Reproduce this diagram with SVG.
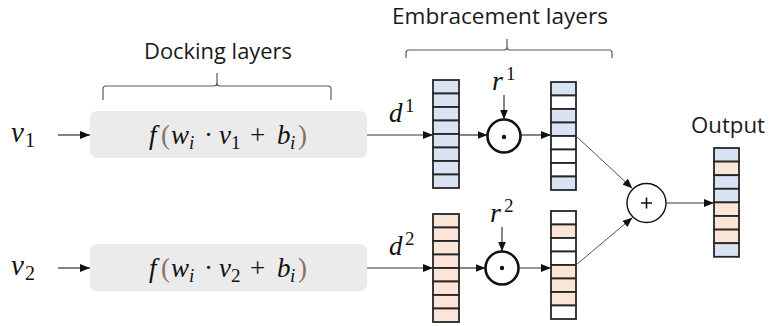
<svg xmlns="http://www.w3.org/2000/svg" width="771" height="326" viewBox="0 0 771 326">
<style>
.lbl{font-family:"Open Sans","Liberation Sans",sans-serif;font-size:22px;fill:#1a1a1a}
.m{font-family:"Liberation Serif","DejaVu Serif",serif;font-style:italic;fill:#111}
.mn{font-family:"Liberation Serif","DejaVu Serif",serif;font-style:normal;fill:#111}
.par{fill:#8a6e68;font-style:normal}
.box{fill:#ebebeb;stroke:none}
.cell{stroke:#262626;stroke-width:1.8}
.b{fill:#dae3f3}
.o{fill:#fbe5d6}
.w{fill:#ffffff}
.con{stroke:#333;stroke-width:1.2;fill:none}
.dg{stroke:#555;stroke-width:1;fill:none}
.odot{fill:#fff;stroke:#111;stroke-width:2.6}
.brace{fill:none;stroke:#5a5a5a;stroke-width:1.2}
</style>
<defs>
<marker id="ah" markerUnits="userSpaceOnUse" markerWidth="10" markerHeight="8" refX="10" refY="4" orient="auto">
<path d="M0,0 L10,4 L0,8 Z" fill="#111"/>
</marker>
</defs>

<!-- section labels and braces -->
<g id="docking-label">
<text class="lbl" x="218" y="59" text-anchor="middle" textLength="148" lengthAdjust="spacingAndGlyphs">Docking layers</text>
<path class="brace" d="M103,100 V89 Q103,86 106,86 H214 Q217,86 217,83 V73 M217,83 Q217,86 220,86 H328 Q331,86 331,89 V100"/>
</g>
<g id="embracement-label">
<text class="lbl" x="500" y="24" text-anchor="middle" textLength="216" lengthAdjust="spacingAndGlyphs">Embracement layers</text>
<path class="brace" d="M406,58 V53 Q406,50 409,50 H504 Q507,50 507,47 V39 M507,47 Q507,50 510,50 H609 Q612,50 612,53 V58"/>
</g>

<!-- inputs -->
<g id="v1">
<text class="m" x="11" y="142" font-size="29">v<tspan class="mn" font-size="20" x="25" dy="5">1</tspan></text>
</g>
<g id="v2">
<text class="m" x="11" y="275" font-size="29">v<tspan class="mn" font-size="20" x="25" dy="5">2</tspan></text>
</g>

<!-- docking boxes -->
<g id="dock1">
<rect class="box" x="90" y="111" width="277" height="47" rx="7"/>
<text class="m" y="144" font-size="27"><tspan x="149">f</tspan><tspan class="par" x="161">(</tspan><tspan x="171">w</tspan><tspan font-size="19" x="189" dy="5">i</tspan><tspan class="mn" x="204" dy="-5">·</tspan><tspan x="219">v</tspan><tspan class="mn" font-size="19" x="231" dy="5">1</tspan><tspan class="mn" x="250" dy="-5">+</tspan><tspan x="277">b</tspan><tspan font-size="19" x="290" dy="5">i</tspan><tspan class="par" x="298" dy="-5">)</tspan></text>
</g>
<g id="dock2">
<rect class="box" x="90" y="244" width="277" height="47" rx="7"/>
<text class="m" y="277" font-size="27"><tspan x="149">f</tspan><tspan class="par" x="161">(</tspan><tspan x="171">w</tspan><tspan font-size="19" x="189" dy="5">i</tspan><tspan class="mn" x="204" dy="-5">·</tspan><tspan x="219">v</tspan><tspan class="mn" font-size="19" x="231" dy="5">2</tspan><tspan class="mn" x="250" dy="-5">+</tspan><tspan x="277">b</tspan><tspan font-size="19" x="290" dy="5">i</tspan><tspan class="par" x="298" dy="-5">)</tspan></text>
</g>

<!-- d labels -->
<g id="d1">
<text class="m" x="389" y="122" font-size="27">d<tspan class="mn" font-size="19" x="405" dy="-10">1</tspan></text>
</g>
<g id="d2">
<text class="m" x="389" y="255" font-size="27">d<tspan class="mn" font-size="19" x="405" dy="-10">2</tspan></text>
</g>

<!-- vector 1 (d1) -->
<g id="vec-d1" class="cell">
<rect class="b" x="433" y="80" width="26" height="13.5"/>
<rect class="b" x="433" y="93.5" width="26" height="13.5"/>
<rect class="b" x="433" y="107" width="26" height="13.5"/>
<rect class="b" x="433" y="120.5" width="26" height="13.5"/>
<rect class="b" x="433" y="134" width="26" height="13.5"/>
<rect class="b" x="433" y="147.5" width="26" height="13.5"/>
<rect class="b" x="433" y="161" width="26" height="13.5"/>
<rect class="b" x="433" y="174.5" width="26" height="13.5"/>
</g>
<!-- vector 3 (d2) -->
<g id="vec-d2" class="cell">
<rect class="o" x="433" y="214" width="26" height="13.5"/>
<rect class="o" x="433" y="227.5" width="26" height="13.5"/>
<rect class="o" x="433" y="241" width="26" height="13.5"/>
<rect class="o" x="433" y="254.5" width="26" height="13.5"/>
<rect class="o" x="433" y="268" width="26" height="13.5"/>
<rect class="o" x="433" y="281.5" width="26" height="13.5"/>
<rect class="o" x="433" y="295" width="26" height="13.5"/>
<rect class="o" x="433" y="308.5" width="26" height="13.5"/>
</g>

<!-- r labels -->
<g id="r1">
<text class="m" x="492" y="90" font-size="28">r<tspan class="mn" font-size="19" x="506" dy="-10">1</tspan></text>
</g>
<g id="r2">
<text class="m" x="490" y="222" font-size="28">r<tspan class="mn" font-size="19" x="504" dy="-10">2</tspan></text>
</g>

<!-- element-wise product nodes -->
<g id="odot1">
<circle class="odot" cx="504" cy="136" r="16.5"/>
<circle cx="504" cy="137" r="2.2" fill="#111"/>
</g>
<g id="odot2">
<circle class="odot" cx="502" cy="268" r="16.5"/>
<circle cx="502" cy="268" r="2.2" fill="#111"/>
</g>

<!-- embraced vector 1 -->
<g id="vec-e1" class="cell">
<rect class="b" x="551" y="82" width="25" height="13.5"/>
<rect class="w" x="551" y="95.5" width="25" height="13.5"/>
<rect class="b" x="551" y="109" width="25" height="13.5"/>
<rect class="b" x="551" y="122.5" width="25" height="13.5"/>
<rect class="w" x="551" y="136" width="25" height="13.5"/>
<rect class="w" x="551" y="149.5" width="25" height="13.5"/>
<rect class="w" x="551" y="163" width="25" height="13.5"/>
<rect class="b" x="551" y="176.5" width="25" height="13.5"/>
</g>
<!-- embraced vector 2 -->
<g id="vec-e2" class="cell">
<rect class="w" x="551" y="211" width="25" height="13.5"/>
<rect class="o" x="551" y="224.5" width="25" height="13.5"/>
<rect class="w" x="551" y="238" width="25" height="13.5"/>
<rect class="w" x="551" y="251.5" width="25" height="13.5"/>
<rect class="o" x="551" y="265" width="25" height="13.5"/>
<rect class="o" x="551" y="278.5" width="25" height="13.5"/>
<rect class="o" x="551" y="292" width="25" height="13.5"/>
<rect class="w" x="551" y="305.5" width="25" height="13.5"/>
</g>

<!-- sum node -->
<g id="plus">
<circle cx="646.5" cy="203" r="19.5" fill="#fff" stroke="#111" stroke-width="1.4"/>
<path d="M641,203 H652 M646.5,197.5 V208.5" stroke="#111" stroke-width="1.6"/>
</g>

<!-- output -->
<g id="output">
<text class="lbl" x="728" y="133" text-anchor="middle" textLength="74" lengthAdjust="spacingAndGlyphs">Output</text>
<g class="cell">
<rect class="b" x="714" y="148" width="25" height="13.6"/>
<rect class="o" x="714" y="161.6" width="25" height="13.6"/>
<rect class="b" x="714" y="175.2" width="25" height="13.6"/>
<rect class="b" x="714" y="188.8" width="25" height="13.6"/>
<rect class="o" x="714" y="202.4" width="25" height="13.6"/>
<rect class="o" x="714" y="216" width="25" height="13.6"/>
<rect class="o" x="714" y="229.6" width="25" height="13.6"/>
<rect class="b" x="714" y="243.2" width="25" height="13.6"/>
</g>
</g>

<!-- connectors -->
<g id="connectors">
<path class="con" d="M58,135 H90" marker-end="url(#ah)"/>
<path class="con" d="M58,268 H90" marker-end="url(#ah)"/>
<path class="con" d="M367,135 H433" marker-end="url(#ah)"/>
<path class="con" d="M367,268 H433" marker-end="url(#ah)"/>
<path class="con" d="M459,135 H487.5" marker-end="url(#ah)"/>
<path class="con" d="M504,95 V119.5" marker-end="url(#ah)"/>
<path class="con" d="M520.5,135 H551" marker-end="url(#ah)"/>
<path class="con" d="M459,268 H485.5" marker-end="url(#ah)"/>
<path class="con" d="M502,227 V251.5" marker-end="url(#ah)"/>
<path class="con" d="M518.5,268 H551" marker-end="url(#ah)"/>
<path class="dg" d="M576,136 L632.5,188.5" marker-end="url(#ah)"/>
<path class="dg" d="M576,265 L632.5,217.5" marker-end="url(#ah)"/>
<path class="con" d="M666,203 H714" marker-end="url(#ah)"/>
</g>
</svg>
